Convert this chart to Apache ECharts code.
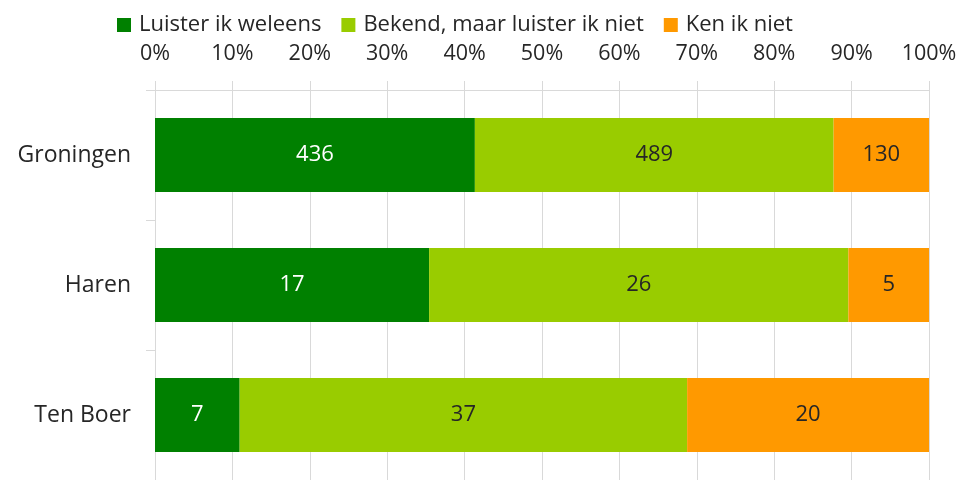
<!DOCTYPE html>
<html>
<head>
<meta charset="utf-8">
<script src="https://cdn.jsdelivr.net/npm/echarts@6/dist/echarts.min.js"></script>
<style>html,body{margin:0;padding:0;background:#fff}#c{width:964px;height:480px}</style>
</head>
<body>
<div id="c"></div>
<script>
const categories = ['Groningen', 'Haren', 'Ten Boer'];
const seriesNames = ['Luister ik weleens', 'Bekend, maar luister ik niet', 'Ken ik niet'];
const luisterWeleens = [436, 17, 7];
const bekendNiet = [489, 26, 37];
const kenNiet = [130, 5, 20];
const xTickLabels = ['0%', '10%', '20%', '30%', '40%', '50%', '60%', '70%', '80%', '90%', '100%'];

const counts = [luisterWeleens, bekendNiet, kenNiet];
const totals = categories.map((c, i) => counts.reduce((s, arr) => s + arr[i], 0));
const colors = ['#008000', '#99cc00', '#ff9900'];
const labelColors = ['#ffffff', '#262626', '#262626'];
const FONT = 'Open Sans';
const TEXT = '#262626';

const chart = echarts.init(document.getElementById('c'));
chart.setOption({
  animation: false,
  textStyle: { fontFamily: FONT },
  legend: {
    top: 9, left: 112,
    itemWidth: 14, itemHeight: 14, itemGap: 20,
    icon: 'rect',
    textStyle: { fontSize: 22, color: TEXT, fontFamily: FONT, padding: [0, 0, 0, 3] },
    data: seriesNames
  },
  grid: { left: 155, right: 35, top: 90, height: 394 },
  xAxis: {
    type: 'value', position: 'top', min: 0, max: 100, interval: 10,
    axisLine: { show: true, lineStyle: { color: '#d9d9d9', width: 1 } },
    axisTick: { show: true, length: 9, lineStyle: { color: '#d9d9d9' } },
    splitLine: { show: true, lineStyle: { color: '#d9d9d9', width: 1 } },
    axisLabel: {
      margin: 25, fontSize: 21.5, color: TEXT, fontFamily: FONT,
      formatter: v => xTickLabels[Math.round(v / 10)]
    }
  },
  yAxis: {
    type: 'category', data: categories, inverse: true,
    axisLine: { show: true, lineStyle: { color: '#d9d9d9', width: 1 } },
    axisTick: { show: true, length: 9, lineStyle: { color: '#d9d9d9' } },
    axisLabel: { margin: 24, fontSize: 23, color: TEXT, fontFamily: FONT }
  },
  series: counts.map((arr, si) => ({
    name: seriesNames[si],
    type: 'bar', stack: 'total', barWidth: 74,
    itemStyle: { color: colors[si] },
    label: {
      show: true, position: 'inside', fontSize: 22, fontFamily: FONT,
      color: labelColors[si],
      formatter: p => String(arr[p.dataIndex])
    },
    data: arr.map((v, i) => v / totals[i] * 100)
  }))
});
</script>
</body>
</html>
